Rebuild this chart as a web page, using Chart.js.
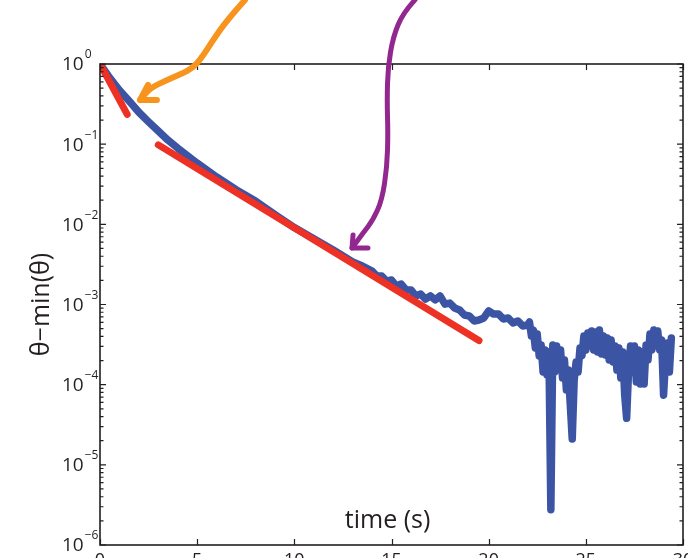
<!DOCTYPE html>
<html>
<head>
<meta charset="utf-8">
<script src="https://cdn.jsdelivr.net/npm/chart.js@4.4.1/dist/chart.umd.min.js"></script>
<style>
  html, body { margin: 0; padding: 0; overflow: hidden; background: #fff; }
  #wrap { width: 703px; height: 575px; }
</style>
</head>
<body>
<div id="wrap"><canvas id="decay-chart" width="703" height="575"></canvas></div>
<script>
const blueTime = [
  0, 0.25, 0.5, 1, 1.5, 2, 2.5, 3, 3.5, 4, 5, 6, 7, 8, 9, 10, 11, 12, 12.5, 13, 13.5,
  14, 14.25, 14.5, 14.75, 15, 15.25, 15.5, 15.75, 16, 16.25, 16.5, 16.75, 17, 17.25, 17.5, 17.75,
  18, 18.25, 18.5, 18.75, 19, 19.25, 19.5, 19.75, 20, 20.25, 20.5, 20.75, 21, 21.25, 21.5, 21.75, 22,
  22.1, 22.2, 22.3, 22.4, 22.5, 22.6, 22.7, 22.8, 22.9, 23, 23.1, 23.2, 23.3, 23.4, 23.5, 23.6, 23.7,
  23.8, 23.9, 24, 24.1, 24.2, 24.3, 24.4, 24.5, 24.6, 24.7, 24.8, 24.9, 25, 25.1, 25.2, 25.3, 25.4,
  25.5, 25.6, 25.7, 25.8, 25.9, 26, 26.1, 26.2, 26.3, 26.4, 26.5, 26.6, 26.7, 26.8, 26.9, 27, 27.1,
  27.2, 27.3, 27.4, 27.5, 27.6, 27.7, 27.8, 27.9, 28, 28.1, 28.2, 28.3, 28.4, 28.5, 28.6, 28.7, 28.8,
  28.9, 29, 29.1, 29.2, 29.3, 29.4,
];
const blueValue = [
  1.0, 0.82, 0.67, 0.47, 0.345, 0.25, 0.19, 0.146, 0.112, 0.089, 0.058, 0.039, 0.027, 0.0195,
  0.0132, 0.0091, 0.0066, 0.0048, 0.00403, 0.00339, 0.00302,
  2.61e-3, 2.26e-3, 2.26e-3, 1.96e-3, 2.02e-3, 1.70e-3, 1.80e-3, 1.52e-3, 1.52e-3, 1.28e-3, 1.35e-3,
  1.17e-3, 1.28e-3, 1.14e-3, 1.28e-3, 1.01e-3, 1.04e-3, 9.05e-4, 8.55e-4, 7.40e-4, 7.19e-4, 6.23e-4,
  6.41e-4, 6.79e-4, 8.31e-4, 7.62e-4, 7.62e-4, 6.60e-4, 6.79e-4, 5.88e-4, 6.23e-4, 5.40e-4, 5.55e-4,
  6.05e-4, 4.05e-4, 4.81e-4, 2.87e-4, 4.29e-4, 2.28e-4, 3.13e-4, 1.435e-4, 2.71e-4, 1.32e-4, 2.56e-4,
  2.75e-6, 3.13e-4, 1.435e-4, 3.04e-4, 1.615e-4, 2.71e-4, 1.21e-4, 2.03e-4, 8.6e-5, 1.52e-4, 5.6e-5,
  2.1e-5, 1.14e-4, 1.92e-4, 1.435e-4, 2.87e-4, 2.28e-4, 4.05e-4, 2.71e-4, 4.41e-4, 3.13e-4, 4.68e-4,
  2.71e-4, 4.54e-4, 2.56e-4, 4.81e-4, 2.42e-4, 4.05e-4, 2.35e-4, 3.83e-4, 2.03e-4, 3.61e-4, 1.92e-4,
  3.04e-4, 1.52e-4, 2.87e-4, 1.21e-4, 2.56e-4, 7.4e-5, 3.8e-5, 1.52e-4, 3.04e-4, 1.435e-4, 3.04e-4,
  1.08e-4, 2.71e-4, 1.02e-4, 2.56e-4, 1.02e-4, 3.13e-4, 2.03e-4, 4.29e-4, 2.71e-4, 4.81e-4, 3.13e-4,
  4.68e-4, 2.71e-4, 3.61e-4, 7.4e-5, 2.03e-4, 3.31e-4, 1.435e-4, 3.83e-4,
];

// exponential fits (red), end points
const fastFitTime = [0, 1.4];
const fastFitValue = [1.0, 0.235];
const slowFitTime = [3.0, 19.5];
const slowFitValue = [0.098, 3.55e-4];

// annotation arrows, in data units
const orangeArrowT = [7.46, 6.54, 5.82, 5.15, 4.63, 3.45, 2.57, 2.06];
const orangeArrowV = [6.3, 3.54, 1.99, 1.12, 0.84, 0.63, 0.5, 0.356];
const orangeHeadT = [2.47, 2.06, 2.93];
const orangeHeadV = [0.547, 0.356, 0.356];
const purpleArrowT = [16.21, 15.59, 15.08, 14.82, 14.77, 14.82, 14.77, 14.51, 14.05, 13.54, 12.97];
const purpleArrowV = [6.3, 4.33, 2.17, 0.918, 0.356, 0.138, 0.0519, 0.0201, 0.0113, 0.0078, 0.00507];
const purpleHeadT = [13.02, 12.97, 13.79];
const purpleHeadV = [0.00736, 0.00507, 0.00507];

const xTicks = [0, 5, 10, 15, 20, 25, 30];
const yExponents = [0, -1, -2, -3, -4, -5, -6];

const ink = "#231f20";
const family = "'Open Sans', 'DejaVu Sans', sans-serif";

function to_points(ts, vs) {
  return ts.map((t, i) => ({ x: t, y: vs[i] }));
}

function stroke_curve(ctx, pts) {
  ctx.beginPath();
  ctx.moveTo(pts[0][0], pts[0][1]);
  for (let i = 1; i < pts.length - 1; i++) {
    const mx = (pts[i][0] + pts[i + 1][0]) / 2;
    const my = (pts[i][1] + pts[i + 1][1]) / 2;
    ctx.quadraticCurveTo(pts[i][0], pts[i][1], mx, my);
  }
  const last = pts[pts.length - 1];
  ctx.lineTo(last[0], last[1]);
  ctx.stroke();
}

function draw_arrow(chart, ts, vs, hts, hvs, color, width) {
  const xs = chart.scales.x, ys = chart.scales.y, ctx = chart.ctx;
  const px = (t, v) => [xs.getPixelForValue(t), ys.getPixelForValue(v)];
  ctx.save();
  ctx.strokeStyle = color;
  ctx.lineWidth = width;
  ctx.lineCap = "round";
  ctx.lineJoin = "round";
  stroke_curve(ctx, ts.map((t, i) => px(t, vs[i])));
  ctx.beginPath();
  hts.forEach((t, i) => {
    const p = px(t, hvs[i]);
    if (i === 0) ctx.moveTo(p[0], p[1]);
    else ctx.lineTo(p[0], p[1]);
  });
  ctx.stroke();
  ctx.restore();
}

const frame_plugin = {
  id: "frame",
  afterDatasetsDraw(chart) {
    const ctx = chart.ctx, a = chart.chartArea;
    const xs = chart.scales.x, ys = chart.scales.y;
    ctx.save();
    ctx.strokeStyle = ink;
    ctx.lineWidth = 1.2;
    ctx.beginPath();
    xTicks.forEach((t) => {
      const p = Math.round(xs.getPixelForValue(t)) + 0.5;
      ctx.moveTo(p, a.bottom); ctx.lineTo(p, a.bottom - 6);
      ctx.moveTo(p, a.top); ctx.lineTo(p, a.top + 6);
    });
    yExponents.forEach((e) => {
      const d = Math.pow(10, e);
      const p = ys.getPixelForValue(d);
      ctx.moveTo(a.left, p); ctx.lineTo(a.left + 6, p);
      ctx.moveTo(a.right, p); ctx.lineTo(a.right - 6, p);
      if (e < 0) {
        for (let k = 2; k <= 9; k++) {
          const q = ys.getPixelForValue(k * d);
          ctx.moveTo(a.left, q); ctx.lineTo(a.left + 3.5, q);
          ctx.moveTo(a.right, q); ctx.lineTo(a.right - 3.5, q);
        }
      }
    });
    ctx.stroke();
    ctx.lineWidth = 1.6;
    ctx.strokeRect(a.left, a.top, a.right - a.left, a.bottom - a.top);

    // y tick labels with superscript exponents
    ctx.fillStyle = ink;
    ctx.textAlign = "left";
    ctx.textBaseline = "middle";
    yExponents.forEach((e) => {
      const p = ys.getPixelForValue(Math.pow(10, e));
      ctx.font = "19px " + family;
      ctx.fillText("10", 62, p + 1);
      const w = ctx.measureText("10").width;
      ctx.font = "12px " + family;
      ctx.fillText(e === 0 ? "0" : "\u2212" + Math.abs(e), 62 + w + 1, p - 9);
    });

    // x axis title sits inside the plot
    ctx.font = "25px " + family;
    ctx.textAlign = "center";
    ctx.fillText("time (s)", xs.getPixelForValue(14.8), a.bottom - 24);
    ctx.restore();
  },
  afterDraw(chart) {
    draw_arrow(chart, orangeArrowT, orangeArrowV, orangeHeadT, orangeHeadV, "#f7941d", 6);
    draw_arrow(chart, purpleArrowT, purpleArrowV, purpleHeadT, purpleHeadV, "#92278f", 5);
  },
};

const ctx = document.getElementById("decay-chart");
new Chart(ctx, {
  type: "line",
  data: {
    datasets: [
      {
        data: to_points(fastFitTime, fastFitValue),
        borderColor: "#ed3124",
        borderWidth: 7,
        borderCapStyle: "round",
      },
      {
        data: to_points(slowFitTime, slowFitValue),
        borderColor: "#ed3124",
        borderWidth: 7,
        borderCapStyle: "round",
      },
      {
        data: to_points(blueTime, blueValue),
        borderColor: "#3b54a4",
        borderWidth: 7.5,
        borderCapStyle: "round",
        borderJoinStyle: "round",
      },
    ],
  },
  options: {
    responsive: false,
    animation: false,
    layout: { padding: { top: 64, right: 20, left: 0, bottom: 0 } },
    elements: { point: { radius: 0 }, line: { tension: 0 } },
    plugins: { legend: { display: false }, tooltip: { enabled: false } },
    scales: {
      x: {
        type: "linear",
        min: 0,
        max: 30,
        grid: { display: false, drawTicks: false },
        border: { display: false },
        ticks: { stepSize: 5, maxRotation: 0, padding: 5, color: ink, font: { size: 18, family: family } },
        afterFit: (s) => { s.height = 30; },
      },
      y: {
        type: "logarithmic",
        min: 1e-6,
        max: 1,
        grid: { display: false, drawTicks: false },
        border: { display: false },
        ticks: { display: false },
        title: {
          display: true,
          text: "θ−min(θ)",
          color: ink,
          font: { size: 25, family: family },
          padding: { top: 27, bottom: 0 },
        },
        afterFit: (s) => { s.width = 100; },
      },
    },
  },
  plugins: [frame_plugin],
});
</script>
</body>
</html>
